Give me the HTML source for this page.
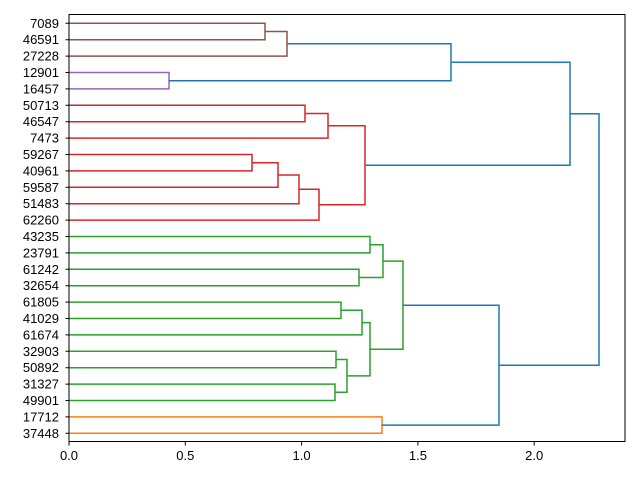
<!DOCTYPE html>
<html><head><meta charset="utf-8"><style>
html,body{margin:0;padding:0;background:#fff;}
svg{display:block;font-family:"Liberation Sans","DejaVu Sans",sans-serif;}
</style></head><body>
<svg width="640" height="480" viewBox="0 0 640 480" xmlns="http://www.w3.org/2000/svg">
<rect width="640" height="480" fill="#fff"/>
<g fill="none" stroke-width="1.5">
<!-- brown -->
<path stroke="#8c564b" d="M69,23.3H265V39.7H69 M265,31.5H287V56.1H69"/>
<!-- purple -->
<path stroke="#9467bd" d="M69,72.5H169V88.9H69"/>
<!-- red -->
<path stroke="#d62728" d="M69,105.3H305V121.7H69 M305,113.5H328V138.1H69
M69,154.5H252V170.9H69 M252,162.7H278V187.3H69 M278,175H299V203.7H69 M299,189.3H319V220.1H69
M328,125.8H365V204.7H319"/>
<!-- green -->
<path stroke="#2ca02c" d="M69,236.5H370V252.9H69 M69,269.3H359V285.7H69 M370,244.7H383V277.5H359
M69,302.1H341V318.5H69 M341,310.3H362V334.9H69
M69,351.3H336V367.7H69 M69,384.1H335V400.5H69 M336,359.5H347V392.3H335 M362,322.6H370V375.9H347
M383,261.1H403V349.2H370"/>
<!-- orange -->
<path stroke="#ff7f0e" d="M69,416.9H382V433.3H69"/>
<!-- blue -->
<path stroke="#1f77b4" d="M287,43.8H451V80.7H169 M451,62.3H570V165.3H365 M570,113.8H599V365.2H499 M403,305.2H499V425.1H382"/>
</g>
<rect x="69" y="14.5" width="556" height="427" fill="none" stroke="#000" stroke-width="1"/>
<g stroke="#000" stroke-width="1">
<path d="M69,441V445.5 M185.3,441V445.5 M301.6,441V445.5 M417.9,441V445.5 M534.2,441V445.5"/>
<path d="M69,23.3h-3.5M69,39.7h-3.5M69,56.1h-3.5M69,72.5h-3.5M69,88.9h-3.5M69,105.3h-3.5M69,121.7h-3.5M69,138.1h-3.5M69,154.5h-3.5M69,170.9h-3.5M69,187.3h-3.5M69,203.7h-3.5M69,220.1h-3.5M69,236.5h-3.5M69,252.9h-3.5M69,269.3h-3.5M69,285.7h-3.5M69,302.1h-3.5M69,318.5h-3.5M69,334.9h-3.5M69,351.3h-3.5M69,367.7h-3.5M69,384.1h-3.5M69,400.5h-3.5M69,416.9h-3.5M69,433.3h-3.5"/>
</g>
<g font-size="13" fill="#000" text-anchor="middle">
<text x="69" y="460">0.0</text><text x="185.3" y="460">0.5</text><text x="301.6" y="460">1.0</text><text x="417.9" y="460">1.5</text><text x="534.2" y="460">2.0</text>
</g>
<g font-size="13" fill="#000" text-anchor="end" dominant-baseline="central">
<text x="59" y="23.3">7089</text><text x="59" y="39.7">46591</text><text x="59" y="56.1">27228</text><text x="59" y="72.5">12901</text><text x="59" y="88.9">16457</text><text x="59" y="105.3">50713</text><text x="59" y="121.7">46547</text><text x="59" y="138.1">7473</text><text x="59" y="154.5">59267</text><text x="59" y="170.9">40961</text><text x="59" y="187.3">59587</text><text x="59" y="203.7">51483</text><text x="59" y="220.1">62260</text><text x="59" y="236.5">43235</text><text x="59" y="252.9">23791</text><text x="59" y="269.3">61242</text><text x="59" y="285.7">32654</text><text x="59" y="302.1">61805</text><text x="59" y="318.5">41029</text><text x="59" y="334.9">61674</text><text x="59" y="351.3">32903</text><text x="59" y="367.7">50892</text><text x="59" y="384.1">31327</text><text x="59" y="400.5">49901</text><text x="59" y="416.9">17712</text><text x="59" y="433.3">37448</text>
</g>
</svg>
</body></html>
